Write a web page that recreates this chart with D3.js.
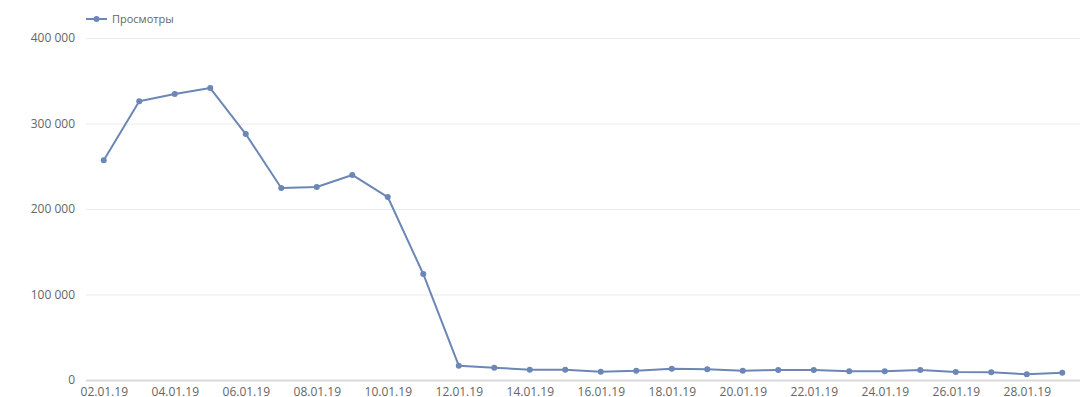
<!DOCTYPE html>
<html>
<head>
<meta charset="utf-8">
<script src="https://cdnjs.cloudflare.com/ajax/libs/d3/7.8.5/d3.min.js"></script>
<style>
  body { margin: 0; background: #fff; }
  svg text { font-family: "Open Sans", Roboto, sans-serif; fill: #666; }
</style>
</head>
<body>
<div id="chart"></div>
<script>
var days = ["02.01.19","03.01.19","04.01.19","05.01.19","06.01.19","07.01.19","08.01.19",
  "09.01.19","10.01.19","11.01.19","12.01.19","13.01.19","14.01.19","15.01.19","16.01.19",
  "17.01.19","18.01.19","19.01.19","20.01.19","21.01.19","22.01.19","23.01.19","24.01.19",
  "25.01.19","26.01.19","27.01.19","28.01.19","29.01.19"];
var views = [257000, 326000, 334500, 341500, 287700, 224600, 225700, 239800, 214000, 124000,
  16700, 14400, 12000, 12000, 9700, 10900, 13200, 12500, 10900, 11700, 11700, 10100, 10100,
  11700, 9400, 9000, 6600, 8600];
var yTicks = [0, 100000, 200000, 300000, 400000];
var seriesName = "Просмотры";

var width = 1091, height = 397;
var lineColor = "#6c87b5";

var svg = d3.select("#chart").append("svg")
  .attr("width", width)
  .attr("height", height);

var x = d3.scalePoint()
  .domain(days)
  .range([86, 1080])
  .padding(0.5);

var y = d3.scaleLinear()
  .domain([0, 400000])
  .range([380, 38]);

var fmt = function(v) { return d3.format(",")(v).replace(/,/g, " "); };

// grid
svg.append("g")
  .selectAll("line")
  .data(yTicks.filter(function(d) { return d > 0; }))
  .enter()
  .append("line")
  .attr("x1", 86)
  .attr("x2", 1080)
  .attr("y1", function(d) { return y(d) + 0.5; })
  .attr("y2", function(d) { return y(d) + 0.5; })
  .attr("stroke", "#ebebeb")
  .attr("stroke-width", 1);

// y labels
svg.append("g")
  .selectAll("text")
  .data(yTicks)
  .enter()
  .append("text")
  .attr("x", 75)
  .attr("y", function(d) { return y(d) + 4; })
  .attr("text-anchor", "end")
  .attr("font-size", 12)
  .text(fmt);

// baseline
svg.append("line")
  .attr("x1", 86)
  .attr("x2", 1080)
  .attr("y1", y(0) + 0.5)
  .attr("y2", y(0) + 0.5)
  .attr("stroke", "#d9d9d9")
  .attr("stroke-width", 2);

// x labels
var xAxis = d3.axisBottom(x)
  .tickValues(days.filter(function(d, i) { return i % 2 === 0; }))
  .tickSize(0)
  .tickPadding(6);

var gx = svg.append("g")
  .attr("transform", "translate(0," + (y(0) + 1) + ")")
  .call(xAxis);
gx.select(".domain").remove();
gx.selectAll("text")
  .attr("font-size", 12)
  .attr("fill", "#666")
  .style("font-family", "'Open Sans', Roboto, sans-serif");

// line
var line = d3.line()
  .x(function(d, i) { return x(days[i]); })
  .y(function(d) { return y(d); });

svg.append("path")
  .datum(views)
  .attr("d", line)
  .attr("fill", "none")
  .attr("stroke", lineColor)
  .attr("stroke-width", 2)
  .attr("stroke-linejoin", "round");

svg.append("g")
  .selectAll("circle")
  .data(views)
  .enter()
  .append("circle")
  .attr("cx", function(d, i) { return x(days[i]); })
  .attr("cy", function(d) { return y(d); })
  .attr("r", 3)
  .attr("fill", lineColor);

// legend
var lg = svg.append("g").attr("transform", "translate(86,19)");
lg.append("line")
  .attr("x1", 0).attr("x2", 21)
  .attr("y1", 0).attr("y2", 0)
  .attr("stroke", lineColor)
  .attr("stroke-width", 2);
lg.append("circle")
  .attr("cx", 10.5).attr("cy", 0).attr("r", 3)
  .attr("fill", lineColor);
lg.append("text")
  .attr("x", 26)
  .attr("y", 4)
  .attr("font-size", 11)
  .attr("fill", "#333")
  .text(seriesName);
</script>
</body>
</html>
